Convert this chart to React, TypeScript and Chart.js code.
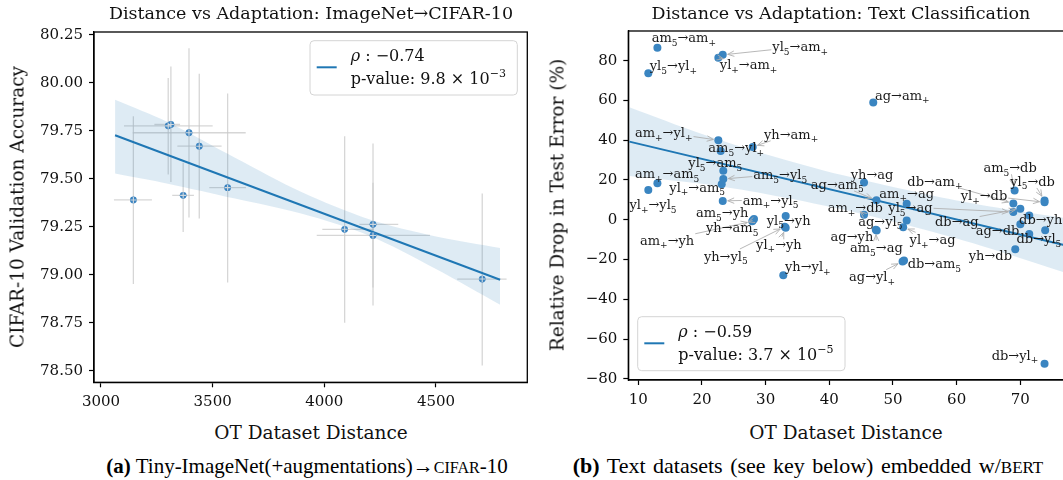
import React, { useEffect, useRef } from "react";
import { Chart, registerables } from "chart.js";
Chart.register(...registerables);

const SERIF = "'DejaVu Serif', serif";

// ---------- (a) ImageNet -> CIFAR-10 ----------
const imgDistance = [3145, 3301, 3313, 3394, 3440, 3368, 3567, 4091, 4218, 4218, 4707];
const imgAccuracy = [79.39, 79.776, 79.783, 79.74, 79.67, 79.414, 79.454, 79.237, 79.263, 79.205, 78.978];
const imgDistLo = [3058, 3103, 3239, 3142, 3342, 3319, 3485, 3991, 4157, 3966, 4595];
const imgDistHi = [3228, 3500, 3354, 3648, 3540, 3416, 3649, 4219, 4331, 4473, 4816];
const imgAccLo = [78.952, 79.523, 79.483, 79.298, 79.293, 79.223, 78.96, 78.75, 78.934, 78.84, 78.527];
const imgAccHi = [79.826, 80.025, 80.085, 80.18, 80.047, 79.584, 79.944, 79.722, 79.48, 79.684, 79.424];
const imgRegX = [3063, 4787];
const imgRegY = [79.727, 78.974];
const imgBandX = [3063, 3300, 3600, 3900, 4200, 4500, 4787];
const imgBandUpper = [79.912, 79.795, 79.61, 79.43, 79.29, 79.2, 79.14];
const imgBandLower = [79.528, 79.475, 79.397, 79.318, 79.205, 79.03, 78.844];
const imgTicksX = [3000, 3500, 4000, 4500];
const imgTicksY = [78.5, 78.75, 79.0, 79.25, 79.5, 79.75, 80.0, 80.25];

// ---------- (b) Text classification ----------
const pairLabels = [
  "am_5→am_+", "yl_5→am_+", "yl_+→am_+", "yl_5→yl_+", "ag→am_+",
  "am_+→yl_+", "yh→am_+", "am_5→yl_+", "yl_5→am_5", "am_5→yl_5",
  "yl_+→am_5", "am_+→am_5", "yl_+→yl_5", "am_+→yl_5", "am_5→yh",
  "yh→am_5", "am_+→yh", "yl_5→yh", "yl_+→yh", "yh→yl_5",
  "yh→yl_+", "yh→ag", "ag→am_5", "am_+→ag", "am_+→db",
  "yl_5→ag", "ag→yl_5", "yl_+→ag", "ag→yh", "am_5→ag",
  "db→am_5", "ag→yl_+", "am_5→db", "yl_5→db", "db→am_+",
  "yl_+→db", "db→ag", "db→yh", "ag→db", "db→yl_5",
  "yh→db", "db→yl_+", "",
];
const textDistance = [
  13.0, 23.26, 22.57, 11.57, 46.9,
  22.57, 27.97, 22.94, 23.35, 23.35,
  23.1, 13.0, 11.57, 23.26, 28.17,
  28.0, 27.9, 33.15, 33.15, 33.0,
  32.77, 45.45, 47.4, 52.15, 45.45,
  68.9, 52.15, 51.6, 47.44, 47.3,
  51.73, 51.5, 69.1, 73.8, 68.9,
  73.8, 70.0, 73.9, 70.0, 71.4,
  69.2, 73.8, 71.4,
];
const errorDrop = [
  86.5, 82.9, 81.5, 73.7, 58.9,
  40.0, 36.6, 34.6, 24.6, 20.5,
  17.9, 18.4, 15.0, 9.5, 0.4,
  -0.3, -0.8, 1.9, -4.0, -3.5,
  -27.9, 18.7, 9.8, 8.0, 2.5,
  3.9, -0.4, -3.7, -5.4, -5.0,
  -20.5, -21.0, 14.7, 9.7, 8.2,
  8.8, 5.6, -5.3, -2.2, -7.1,
  -14.8, -72.4, 2.1,
];
const labelDistance = [
  12.1, 31.05, 22.8, 11.8, 47.18,
  9.48, 29.74, 21.0, 17.85, 28.06,
  14.87, 9.48, 8.6, 26.4, 19.06,
  20.63, 10.27, 30.17, 28.5, 20.3,
  33.04, 43.36, 37.1, 47.86, 39.74,
  49.27, 44.55, 52.6, 40.2, 43.25,
  52.3, 43.1, 64.2, 68.4, 52.25,
  60.63, 56.6, 69.8, 63.0, 69.4,
  61.9, 65.5, 0,
];
const labelDrop = [
  91.6, 87.0, 78.2, 77.5, 62.8,
  44.0, 43.2, 36.3, 28.7, 22.9,
  16.4, 23.4, 7.8, 10.0, 3.6,
  -3.9, -10.1, -0.05, -12.1, -18.2,
  -23.5, 22.9, 18.0, 13.4, 6.1,
  6.3, -0.6, -9.8, -8.2, -13.8,
  -21.9, -28.6, 26.4, 19.5, 19.5,
  12.3, -0.6, 0.3, -5.4, -9.3,
  -17.7, -67.9, 0,
];
const textRegX = [8.6, 78];
const textRegY = [39.3, -13.6];
const textBandX = [8.6, 20, 30, 42, 55, 65, 78];
const textBandUpper = [56.6, 43.1, 33.0, 22.45, 12.94, 6.82, 0.4];
const textBandLower = [22.0, 18.1, 13.0, 5.25, -5.06, -14.18, -27.6];
const textTicksX = [10, 20, 30, 40, 50, 60, 70];
const textTicksY = [-80, -60, -40, -20, 0, 20, 40, 60, 80];

const legendA = ["ρ : −0.74", "p-value: 9.8 × 10^{−3}"];
const legendB = ["ρ : −0.59", "p-value: 3.7 × 10^{−5}"];

// ---------- rich text helpers ----------
type Seg = { t: string; m: number };
function parseRich(s: string): Seg[] {
  const out: Seg[] = [];
  let buf = "";
  for (let i = 0; i < s.length; i++) {
    const c = s[i];
    if (c === "_" || c === "^") {
      if (buf) { out.push({ t: buf, m: 0 }); buf = ""; }
      let t = "";
      if (s[i + 1] === "{") { const j = s.indexOf("}", i + 2); t = s.slice(i + 2, j); i = j; }
      else { t = s[i + 1]; i++; }
      out.push({ t, m: c === "_" ? 1 : 2 });
    } else buf += c;
  }
  if (buf) out.push({ t: buf, m: 0 });
  return out;
}
function segFont(m: number, size: number, italic = false) {
  return `${italic ? "italic " : ""}${m === 0 ? size : Math.round(size * 0.7)}px ${SERIF}`;
}
function richWidth(ctx: CanvasRenderingContext2D, segs: Seg[], size: number) {
  let w = 0;
  for (const s of segs) { ctx.font = segFont(s.m, size); w += ctx.measureText(s.t).width; }
  return w;
}
function drawRich(ctx: CanvasRenderingContext2D, segs: Seg[], x: number, yMid: number, size: number, color: string) {
  const base = yMid + size * 0.36;
  ctx.fillStyle = color;
  ctx.textAlign = "left";
  ctx.textBaseline = "alphabetic";
  let cx = x;
  for (const s of segs) {
    const dy = s.m === 1 ? size * 0.28 : s.m === 2 ? -size * 0.42 : 0;
    const t = s.t;
    if (t.startsWith("ρ")) {
      ctx.font = segFont(s.m, size, true);
      ctx.fillText("ρ", cx, base + dy);
      cx += ctx.measureText("ρ").width;
      ctx.font = segFont(s.m, size);
      ctx.fillText(t.slice(1), cx, base + dy);
      cx += ctx.measureText(t.slice(1)).width;
    } else {
      ctx.font = segFont(s.m, size);
      ctx.fillText(t, cx, base + dy);
      cx += ctx.measureText(t).width;
    }
  }
}
function drawLegend(ctx: CanvasRenderingContext2D, bx: number, by: number, bw: number, bh: number, lines: string[], lx: number, ly: number, tx: number, ty1: number, ty2: number) {
  ctx.save();
  ctx.beginPath();
  (ctx as any).roundRect(bx, by, bw, bh, 4);
  ctx.fillStyle = "rgba(255,255,255,0.85)";
  ctx.fill();
  ctx.strokeStyle = "#d4d4d4";
  ctx.lineWidth = 1;
  ctx.stroke();
  ctx.beginPath();
  ctx.moveTo(lx, ly);
  ctx.lineTo(lx + 20, ly);
  ctx.strokeStyle = "#1f77b4";
  ctx.lineWidth = 2;
  ctx.stroke();
  drawRich(ctx, parseRich(lines[0]), tx, ty1, 16, "#111");
  drawRich(ctx, parseRich(lines[1]), tx, ty2, 16, "#111");
  ctx.restore();
}
function frame(ctx: CanvasRenderingContext2D, a: any) {
  ctx.save();
  ctx.strokeStyle = "#000";
  ctx.lineWidth = 1.3;
  ctx.strokeRect(a.left, a.top, a.right - a.left, a.bottom - a.top);
  ctx.restore();
}

function pts(xs: number[], ys: number[]) {
  return xs.map((x, i) => ({ x, y: ys[i] }));
}

function axisCommon(ticks: number[], fmt: (v: number) => string, fit: (s: any) => void, min: number, max: number) {
  return {
    type: "linear" as const,
    min,
    max,
    afterBuildTicks: (s: any) => { s.ticks = ticks.map((v) => ({ value: v })); },
    afterFit: fit,
    border: { display: true, color: "#000", width: 1.3 },
    grid: { drawOnChartArea: false, drawTicks: true, tickLength: 5, tickColor: "#000", tickWidth: 1.2 },
    ticks: { font: { family: SERIF, size: 15 }, color: "#111", padding: 6, maxRotation: 0, autoSkip: false, callback: (v: any) => fmt(Number(v)) },
  };
}
const minus = (v: number) => (v < 0 ? "\u2212" + Math.abs(v) : String(v));

export default function App() {
  const refA = useRef<HTMLCanvasElement>(null);
  const refB = useRef<HTMLCanvasElement>(null);

  useEffect(() => {
    const pluginA = {
      id: "extrasA",
      beforeDatasetsDraw(chart: any) {
        const { ctx, scales: { x, y }, chartArea: a } = chart;
        ctx.save();
        ctx.beginPath();
        ctx.rect(a.left, a.top, a.right - a.left, a.bottom - a.top);
        ctx.clip();
        ctx.strokeStyle = "rgba(200,200,200,0.75)";
        ctx.lineWidth = 1.3;
        imgDistance.forEach((d, i) => {
          const px = x.getPixelForValue(d);
          const py = y.getPixelForValue(imgAccuracy[i]);
          ctx.beginPath();
          ctx.moveTo(px, y.getPixelForValue(imgAccLo[i]));
          ctx.lineTo(px, y.getPixelForValue(imgAccHi[i]));
          ctx.moveTo(x.getPixelForValue(imgDistLo[i]), py);
          ctx.lineTo(x.getPixelForValue(imgDistHi[i]), py);
          ctx.stroke();
        });
        ctx.restore();
      },
      afterDatasetsDraw(chart: any) {
        const { ctx, scales: { x, y } } = chart;
        ctx.save();
        ctx.strokeStyle = "rgba(225,225,225,0.9)";
        ctx.lineWidth = 1.1;
        imgDistance.forEach((d, i) => {
          const px = x.getPixelForValue(d);
          const py = y.getPixelForValue(imgAccuracy[i]);
          ctx.beginPath();
          ctx.moveTo(px - 3, py); ctx.lineTo(px + 3, py);
          ctx.moveTo(px, py - 3); ctx.lineTo(px, py + 3);
          ctx.stroke();
        });
        ctx.restore();
      },
      afterDraw(chart: any) {
        const { ctx, chartArea } = chart;
        frame(ctx, chartArea);
        drawLegend(ctx, 310, 40.7, 207.3, 54.3, legendA, 316.7, 67.3, 350.7, 55, 78.3);
      },
    };

    const pluginB = {
      id: "extrasB",
      afterDatasetsDraw(chart: any) {
        const { ctx, scales: { x, y } } = chart;
        const LS = 13;
        ctx.save();
        pairLabels.forEach((lab, i) => {
          if (!lab) return;
          const segs = parseRich(lab);
          const lx = x.getPixelForValue(labelDistance[i]);
          const ly = y.getPixelForValue(labelDrop[i]);
          const w = richWidth(ctx, segs, LS);
          const tx = x.getPixelForValue(textDistance[i]);
          const ty = y.getPixelForValue(errorDrop[i]);
          const cx = lx + w / 2, cy = ly;
          const dx = tx - cx, dy = ty - cy;
          const hw = w / 2 + 1, hh = 7;
          const s = Math.min(Math.abs(dx) > 1e-6 ? hw / Math.abs(dx) : 1e9, Math.abs(dy) > 1e-6 ? hh / Math.abs(dy) : 1e9);
          const len = Math.hypot(dx, dy);
          if (s < 1 && len > 0) {
            const sx = cx + dx * s, sy = cy + dy * s;
            const ux = dx / len, uy = dy / len;
            const ex = tx - ux * 5, ey = ty - uy * 5;
            if (Math.hypot(ex - sx, ey - sy) > 4) {
              ctx.strokeStyle = "#b0b0b0";
              ctx.lineWidth = 0.9;
              ctx.beginPath();
              ctx.moveTo(sx, sy);
              ctx.lineTo(ex, ey);
              const ang = Math.atan2(ey - sy, ex - sx);
              ctx.moveTo(ex - 7 * Math.cos(ang - 0.4), ey - 7 * Math.sin(ang - 0.4));
              ctx.lineTo(ex, ey);
              ctx.lineTo(ex - 7 * Math.cos(ang + 0.4), ey - 7 * Math.sin(ang + 0.4));
              ctx.stroke();
            }
          }
        });
        pairLabels.forEach((lab, i) => {
          if (!lab) return;
          const lx = x.getPixelForValue(labelDistance[i]);
          const ly = y.getPixelForValue(labelDrop[i]);
          drawRich(ctx, parseRich(lab), lx, ly, LS, "#1a1a1a");
        });
        ctx.restore();
      },
      afterDraw(chart: any) {
        const { ctx, chartArea } = chart;
        frame(ctx, chartArea);
        drawLegend(ctx, 97.7, 316.7, 207.3, 54, legendB, 104.3, 343.3, 138.3, 331.7, 354);
      },
    };

    const chartA = new Chart(refA.current!, {
      type: "scatter",
      data: {
        datasets: [
          { data: pts(imgDistance, imgAccuracy), backgroundColor: "#3a83c0", borderWidth: 0, pointRadius: 3.4, pointHoverRadius: 3.4 },
          { data: pts(imgRegX, imgRegY), showLine: true, borderColor: "#1f77b4", borderWidth: 2, pointRadius: 0 },
          { data: pts(imgBandX, imgBandUpper), showLine: true, borderWidth: 0, borderColor: "rgba(0,0,0,0)", pointRadius: 0, fill: "+1", backgroundColor: "rgba(31,119,180,0.15)", tension: 0.3 },
          { data: pts(imgBandX, imgBandLower), showLine: true, borderWidth: 0, borderColor: "rgba(0,0,0,0)", pointRadius: 0, fill: false, tension: 0.3 },
        ],
      } as any,
      options: {
        animation: false,
        responsive: false,
        devicePixelRatio: 1,
        layout: { padding: { top: 32, right: 12.7, left: 0, bottom: 0 } },
        plugins: { legend: { display: false }, tooltip: { enabled: false } },
        scales: {
          x: axisCommon(imgTicksX, (v) => String(v), (s: any) => { s.height = 37.7; }, 2968.7, 4908.8),
          y: axisCommon(imgTicksY, (v) => v.toFixed(2), (s: any) => { s.width = 94; }, 78.44, 80.265),
        },
      } as any,
      plugins: [pluginA],
    });

    const chartB = new Chart(refB.current!, {
      type: "scatter",
      data: {
        datasets: [
          { data: pts(textDistance, errorDrop), backgroundColor: "#3a85c1", borderWidth: 0, pointRadius: 4, pointHoverRadius: 4 },
          { data: pts(textRegX, textRegY), showLine: true, borderColor: "#1f77b4", borderWidth: 2, pointRadius: 0 },
          { data: pts(textBandX, textBandUpper), showLine: true, borderWidth: 0, borderColor: "rgba(0,0,0,0)", pointRadius: 0, fill: "+1", backgroundColor: "rgba(31,119,180,0.15)", tension: 0.3 },
          { data: pts(textBandX, textBandLower), showLine: true, borderWidth: 0, borderColor: "rgba(0,0,0,0)", pointRadius: 0, fill: false, tension: 0.3 },
        ],
      } as any,
      options: {
        animation: false,
        responsive: false,
        devicePixelRatio: 1,
        layout: { padding: { top: 31, right: 10, left: 0, bottom: 0 } },
        plugins: { legend: { display: false }, tooltip: { enabled: false } },
        scales: {
          x: axisCommon(textTicksX, (v) => String(v), (s: any) => { s.height = 40; }, 8.43, 80.94),
          y: axisCommon(textTicksY, minus, (s: any) => { s.width = 88.3; }, -80.55, 94.9),
        },
      } as any,
      plugins: [pluginB],
    });

    return () => { chartA.destroy(); chartB.destroy(); };
  }, []);

  const abs = (style: React.CSSProperties): React.CSSProperties => ({ position: "absolute", whiteSpace: "nowrap", ...style });
  const txt: React.CSSProperties = { fontFamily: SERIF, color: "#111" };
  const cap: React.CSSProperties = { fontFamily: "'Liberation Serif', serif", color: "#000", fontSize: 21 };

  return (
    <div style={{ position: "fixed", left: 0, top: 0, width: 1063, height: 480, overflow: "hidden", background: "#fff" }}>
      <canvas ref={refA} width={540} height={420} style={{ position: "absolute", left: 0, top: 0, width: 540, height: 420 }} />
      <canvas ref={refB} width={560} height={420} style={{ position: "absolute", left: 540, top: 0, width: 560, height: 420 }} />
      <div style={abs({ ...txt, fontSize: 17.5, left: 311, top: 13, transform: "translate(-50%,-50%)" })}>Distance vs Adaptation: ImageNet→CIFAR-10</div>
      <div style={abs({ ...txt, fontSize: 17.5, left: 841, top: 13, transform: "translate(-50%,-50%)" })}>Distance vs Adaptation: Text Classification</div>
      <div style={abs({ ...txt, fontSize: 18.5, left: 17, top: 207, transform: "translate(-50%,-50%) rotate(-90deg)" })}>CIFAR-10 Validation Accuracy</div>
      <div style={abs({ ...txt, fontSize: 18.5, left: 557, top: 205, transform: "translate(-50%,-50%) rotate(-90deg)" })}>Relative Drop in Test Error (%)</div>
      <div style={abs({ ...txt, fontSize: 18.5, left: 311, top: 432, transform: "translate(-50%,-50%)" })}>OT Dataset Distance</div>
      <div style={abs({ ...txt, fontSize: 18.5, left: 846, top: 432, transform: "translate(-50%,-50%)" })}>OT Dataset Distance</div>
      <div style={abs({ ...cap, left: 307, top: 466, transform: "translate(-50%,-50%)" })}>
        <b>(a)</b> Tiny-ImageNet(+augmentations)→<span style={{ fontSize: 16 }}>CIFAR</span>-10
      </div>
      <div style={abs({ ...cap, fontSize: 22, left: 808, top: 466, wordSpacing: 2, transform: "translate(-50%,-50%)" })}>
        <b>(b)</b> Text datasets (see key below) embedded w/<span style={{ fontSize: 17 }}>BERT</span>
      </div>
    </div>
  );
}
